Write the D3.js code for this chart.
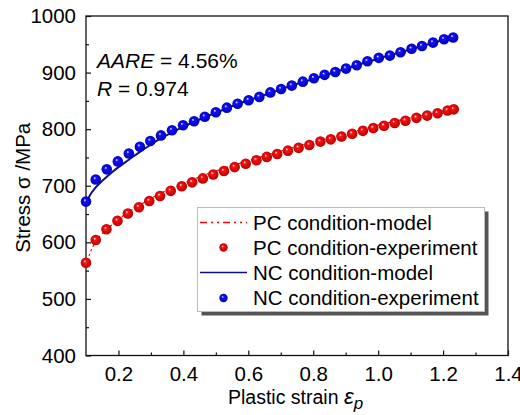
<!DOCTYPE html>
<html>
<head>
<meta charset="utf-8">
<script src="https://cdn.jsdelivr.net/npm/d3@7"></script>
<style>
    body { margin: 0; background: #fff; }
    text { font-family: "Liberation Sans", Arial, sans-serif; fill: #000; }
</style>
</head>
<body>
<script>
//data
var pcStrain = [0.100, 0.130, 0.163, 0.197, 0.229, 0.263, 0.295, 0.328, 0.361, 0.395, 0.427, 0.460, 0.492, 0.525, 0.558, 0.592, 0.625, 0.657, 0.689, 0.722, 0.755, 0.788, 0.822, 0.854, 0.887, 0.920, 0.953, 0.985, 1.018, 1.051, 1.084, 1.118, 1.151, 1.183, 1.214, 1.233];
var pcStress = [564, 604, 623, 638, 651, 662, 673, 682, 691, 699, 706, 713, 720, 726, 733, 739, 745, 751, 756, 762, 767, 772, 778, 782, 787, 792, 797, 802, 806, 811, 815, 820, 824, 828, 833, 835];
var ncStrain = [0.100, 0.130, 0.164, 0.198, 0.232, 0.266, 0.298, 0.331, 0.365, 0.399, 0.433, 0.466, 0.500, 0.534, 0.567, 0.601, 0.634, 0.668, 0.701, 0.734, 0.768, 0.802, 0.835, 0.868, 0.901, 0.934, 0.967, 1.002, 1.036, 1.069, 1.103, 1.135, 1.169, 1.203, 1.231];
var ncStress = [672, 711, 729, 743, 757, 769, 779, 789, 798, 807, 814, 822, 830, 838, 845, 851, 857, 865, 871, 877, 884, 890, 896, 901, 907, 913, 920, 926, 930, 936, 942, 947, 953, 959, 962];
//model curves
var pcModelStrain = [0.100, 0.113, 0.130, 0.163, 0.197, 0.229, 0.263, 0.295, 0.328, 0.361, 0.395, 0.460, 0.525, 0.592, 0.657, 0.722, 0.788, 0.854, 0.920, 0.985, 1.051, 1.118, 1.183, 1.235];
var pcModelStress = [557, 582, 601, 622, 639, 653, 665, 676, 686, 695, 703, 718, 731, 743, 754, 765, 776, 786, 795, 805, 814, 822, 830, 837];
var ncModelStrain = [0.100, 0.113, 0.130, 0.164, 0.198, 0.232, 0.266, 0.298, 0.331, 0.365, 0.399, 0.466, 0.534, 0.601, 0.668, 0.734, 0.802, 0.868, 0.934, 1.002, 1.069, 1.135, 1.203, 1.235];
var ncModelStress = [668, 684, 697, 716, 732, 746, 760, 772, 784, 794, 804, 821, 837, 851, 864, 877, 889, 901, 913, 925, 936, 947, 958, 963];
//ticks and labels
var xTicks = [0.2, 0.4, 0.6, 0.8, 1.0, 1.2, 1.4];
var xMinorTicks = [0.3, 0.5, 0.7, 0.9, 1.1, 1.3];
var yTicks = [400, 500, 600, 700, 800, 900, 1000];
var yMinorTicks = [450, 550, 650, 750, 850, 950];
var legendLabels = ["PC condition-model", "PC condition-experiment", "NC condition-model", "NC condition-experiment"];

window.onload = drawChart();

function drawChart(){
    var width = 520,
        height = 415;
    var plot = {left: 86, right: 508, top: 16, bottom: 355.5};

    var svg = d3.select("body")
        .append("svg")
        .attr("width", width)
        .attr("height", height);

    //sphere-like marker fills
    var defs = svg.append("defs");
    makeBall(defs, "ballRed", "#ff1010", "#b00000");
    makeBall(defs, "ballBlue", "#1010ff", "#0000a8");

    var x = d3.scaleLinear().domain([0.1, 1.4]).range([plot.left, plot.right]);
    var y = d3.scaleLinear().domain([400, 1000]).range([plot.bottom, plot.top]);

    //frame
    svg.append("rect")
        .attr("x", plot.left)
        .attr("y", plot.top)
        .attr("width", plot.right - plot.left)
        .attr("height", plot.bottom - plot.top)
        .attr("fill", "none")
        .attr("stroke", "#111")
        .attr("stroke-width", 1.3);

    //bottom axis, ticks pointing inward
    svg.append("g")
        .attr("transform", "translate(0," + plot.bottom + ")")
        .call(d3.axisBottom(x).tickValues(xTicks).tickSizeInner(-5).tickSizeOuter(0).tickPadding(11).tickFormat(d3.format(".1f")));
    svg.append("g")
        .attr("transform", "translate(0," + plot.bottom + ")")
        .call(d3.axisBottom(x).tickValues(xMinorTicks).tickSize(-3).tickFormat(""));

    svg.append("g")
        .attr("transform", "translate(" + plot.left + ",0)")
        .call(d3.axisLeft(y).tickValues(yTicks).tickSizeInner(-5).tickSizeOuter(0).tickPadding(10).tickFormat(d3.format("d")));
    svg.append("g")
        .attr("transform", "translate(" + plot.left + ",0)")
        .call(d3.axisLeft(y).tickValues(yMinorTicks).tickSize(-3).tickFormat(""));

    svg.selectAll(".domain").remove();
    svg.selectAll(".tick line").attr("stroke", "#111").attr("stroke-width", 1.2);
    svg.selectAll(".tick text")
        .style("font-family", "'Liberation Sans', Arial, sans-serif")
        .style("font-size", "20.5px")
        .attr("fill", "#000");

    //model curves
    var modelLine = d3.line()
        .x(function(d){ return x(d[0]); })
        .y(function(d){ return y(d[1]); })
        .curve(d3.curveMonotoneX);

    svg.append("path")
        .datum(d3.zip(pcModelStrain, pcModelStress))
        .attr("d", modelLine)
        .attr("fill", "none")
        .attr("stroke", "#ff0000")
        .attr("stroke-width", 1.2)
        .attr("stroke-dasharray", "8,3,2,3,2,3");

    svg.append("path")
        .datum(d3.zip(ncModelStrain, ncModelStress))
        .attr("d", modelLine)
        .attr("fill", "none")
        .attr("stroke", "#101080")
        .attr("stroke-width", 2);

    //experiment points
    svg.selectAll(".pcPts")
        .data(d3.zip(pcStrain, pcStress))
        .enter()
        .append("circle")
        .attr("class", "pcPts")
        .attr("cx", function(d){ return x(d[0]); })
        .attr("cy", function(d){ return y(d[1]); })
        .attr("r", 5.3)
        .attr("fill", "url(#ballRed)");

    svg.selectAll(".ncPts")
        .data(d3.zip(ncStrain, ncStress))
        .enter()
        .append("circle")
        .attr("class", "ncPts")
        .attr("cx", function(d){ return x(d[0]); })
        .attr("cy", function(d){ return y(d[1]); })
        .attr("r", 5.3)
        .attr("fill", "url(#ballBlue)");

    //annotation
    var note1 = svg.append("text")
        .attr("x", 97)
        .attr("y", 67.5)
        .style("font-size", "21px");
    note1.append("tspan").style("font-style", "italic").text("AARE");
    note1.append("tspan").text(" = 4.56%");
    var note2 = svg.append("text")
        .attr("x", 97)
        .attr("y", 95.5)
        .style("font-size", "21px");
    note2.append("tspan").style("font-style", "italic").text("R");
    note2.append("tspan").text(" = 0.974");

    //axis titles
    var xTitle = svg.append("text")
        .attr("x", 228)
        .attr("y", 404)
        .style("font-size", "19.5px");
    xTitle.append("tspan").text("Plastic strain ");
    xTitle.append("tspan").style("font-style", "italic").style("font-size", "22px").text("ε");
    xTitle.append("tspan").style("font-style", "italic").style("font-size", "17px").attr("dy", 5).text("p");

    svg.append("text")
        .attr("transform", "translate(30," + ((plot.top + plot.bottom) / 2 + 2) + ") rotate(-90)")
        .attr("text-anchor", "middle")
        .style("font-size", "20.5px")
        .text("Stress σ /MPa");

    setLegend(svg);
};

function makeBall(defs, id, mid, dark){
    var grad = defs.append("radialGradient")
        .attr("id", id)
        .attr("cx", "50%").attr("cy", "50%").attr("r", "55%")
        .attr("fx", "38%").attr("fy", "35%");
    grad.append("stop").attr("offset", "0%").attr("stop-color", "#ffffff");
    grad.append("stop").attr("offset", "25%").attr("stop-color", mid);
    grad.append("stop").attr("offset", "100%").attr("stop-color", dark);
};

function setLegend(svg){
    var box = {x: 197.5, y: 207.5, w: 287, h: 104};
    //shadow then box
    svg.append("rect")
        .attr("x", box.x + 4).attr("y", box.y + 4)
        .attr("width", box.w).attr("height", box.h)
        .attr("fill", "#555");
    svg.append("rect")
        .attr("x", box.x).attr("y", box.y)
        .attr("width", box.w).attr("height", box.h)
        .attr("fill", "#fff")
        .attr("stroke", "#bbb")
        .attr("stroke-width", 1);

    var rowY = [222.5, 247.5, 272.5, 298];
    legendLabels.forEach(function(label, i){
        var cy = rowY[i];
        if (i == 0){
            svg.append("line")
                .attr("x1", 200).attr("x2", 247).attr("y1", cy).attr("y2", cy)
                .attr("stroke", "#ff0000").attr("stroke-width", 1.3)
                .attr("stroke-dasharray", "7,4,2,4,2,4");
        } else if (i == 2){
            svg.append("line")
                .attr("x1", 200).attr("x2", 247).attr("y1", cy).attr("y2", cy)
                .attr("stroke", "#101080").attr("stroke-width", 1.6);
        } else {
            svg.append("circle")
                .attr("cx", 223.5).attr("cy", cy)
                .attr("r", 4.2)
                .attr("fill", i == 1 ? "url(#ballRed)" : "url(#ballBlue)");
        }
        svg.append("text")
            .attr("x", 253)
            .attr("y", cy + 7)
            .style("font-size", "20.5px")
            .text(label);
    });
};
</script>
</body>
</html>
